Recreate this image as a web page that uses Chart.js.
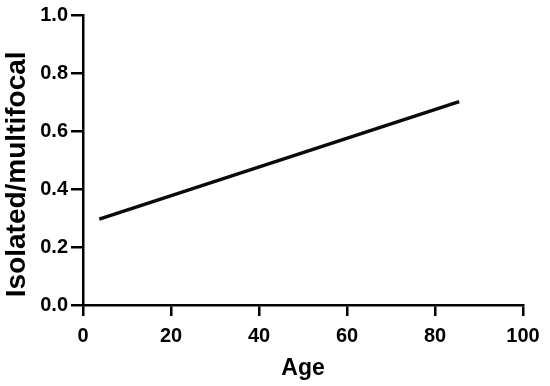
<!DOCTYPE html>
<html>
<head>
<meta charset="utf-8">
<script src="https://cdn.jsdelivr.net/npm/chart.js@4/dist/chart.umd.min.js"></script>
<style>
  html, body { margin: 0; padding: 0; background: #fff; }
  #wrap { width: 550px; height: 386px; position: relative; }
</style>
</head>
<body>
<div id="wrap"><canvas id="c" width="550" height="386"></canvas></div>
<script>
// Data
const ages = [3.7, 85.5];
const ratios = [0.296, 0.701];
const xTicks = [0, 20, 40, 60, 80, 100];
const yTicks = [0.0, 0.2, 0.4, 0.6, 0.8, 1.0];
const xTitle = 'Age';
const yTitle = 'Isolated/multifocal';

const FONT = '"Liberation Sans", Arial, Helvetica, sans-serif';
const points = ages.map((a, i) => ({ x: a, y: ratios[i] }));

new Chart(document.getElementById('c'), {
  type: 'scatter',
  data: {
    datasets: [{
      data: points,
      showLine: true,
      borderColor: '#0a0a0a',
      borderWidth: 3.5,
      pointRadius: 0,
      pointHoverRadius: 0,
      fill: false
    }]
  },
  options: {
    responsive: false,
    animation: false,
    devicePixelRatio: 1,
    plugins: { legend: { display: false }, tooltip: { enabled: false } },
    layout: { padding: { top: 15, right: 27, left: 0, bottom: 0 } },
    scales: {
      x: {
        type: 'linear',
        min: xTicks[0],
        max: xTicks[xTicks.length - 1],
        afterBuildTicks: s => { s.ticks = xTicks.map(v => ({ value: v })); },
        afterFit: s => { s.height = 81; },
        border: { display: true, color: '#000', width: 2.5 },
        grid: { drawOnChartArea: false, drawTicks: true, tickLength: 11, color: '#000', lineWidth: 2.5 },
        ticks: {
          color: '#000', padding: 8,
          font: { family: FONT, size: 20, weight: 'bold' },
          maxRotation: 0
        },
        title: {
          display: true, text: xTitle, color: '#000',
          font: { family: FONT, size: 23, weight: 'bold' },
          padding: { top: 0, bottom: 4 }
        }
      },
      y: {
        type: 'linear',
        min: yTicks[0],
        max: yTicks[yTicks.length - 1],
        afterBuildTicks: s => { s.ticks = yTicks.map(v => ({ value: v })); },
        afterFit: s => { s.width = 83; },
        border: { display: true, color: '#000', width: 2.5 },
        grid: { drawOnChartArea: false, drawTicks: true, tickLength: 12, color: '#000', lineWidth: 2.5 },
        ticks: {
          color: '#000', padding: 3,
          font: { family: FONT, size: 20, weight: 'bold' },
          callback: v => Number(v).toFixed(1)
        },
        title: {
          display: true, text: ' ' + yTitle, color: '#000', align: 'start',
          font: { family: FONT, size: 28, weight: 'bold' },
          padding: { top: 0, bottom: 0 }
        }
      }
    }
  }
});
</script>
</body>
</html>
